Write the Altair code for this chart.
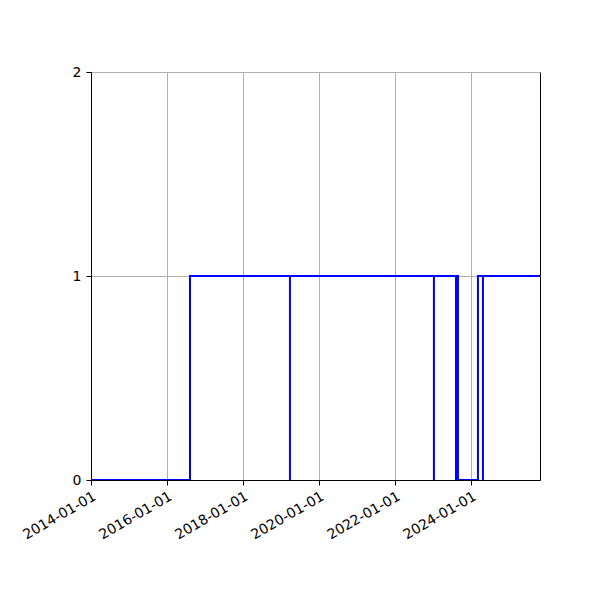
"""Step chart of a 0/1 state over time, drawn with Altair."""

import pandas as pd
import altair as alt

# change points of the state (step-after)
dates = [
    "2014-01-01", "2016-08-09", "2019-03-27", "2019-03-27",
    "2023-01-08", "2023-01-08", "2023-08-08", "2023-08-08",
    "2023-08-27", "2024-03-06", "2024-04-23", "2024-04-23",
    "2025-10-23",
]
values = [0, 1, 0, 1, 0, 1, 0, 1, 0, 1, 0, 1, 1]

tick_years = [2014, 2016, 2018, 2020, 2022, 2024]

df = pd.DataFrame({
    "date": [d + "T00:00:00" for d in dates],
    "value": values,
    "i": list(range(len(dates))),
})

font = "DejaVu Sans"

chart = alt.Chart(df).mark_line(
    interpolate="step-after", color="#0000ff", strokeWidth=2, clip=True
).encode(
    x=alt.X(
        "date:T",
        title=None,
        scale=alt.Scale(domain=[alt.DateTime(year=2014, month=1, date=1),
                                alt.DateTime(year=2025, month=10, date=23)], nice=False),
        axis=alt.Axis(
            values=[alt.DateTime(year=y, month=1, date=1) for y in tick_years],
            format="%Y-%m-%d",
            labelAngle=330,
            labelAlign="right",
            labelBaseline="top",
            labelPadding=4,
            labelOverlap=False,
            labelFlush=False,
        ),
    ),
    y=alt.Y(
        "value:Q",
        title=None,
        scale=alt.Scale(domain=[0, 2], nice=False),
        axis=alt.Axis(tickCount=2, format="d", labelPadding=5,
                      labelOverlap=False, labelFlush=False),
    ),
    order=alt.Order("i:Q"),
).properties(
    width=449,
    height=408,
    autosize=alt.AutoSizeParams(type="none"),
    padding={"left": 83, "top": 64, "right": 20, "bottom": 110},
).configure_axis(
    labelFont=font,
    labelFontSize=14,
    labelColor="black",
    domainColor="black",
    domainWidth=1,
    tickColor="black",
    tickSize=5,
    tickWidth=1,
    gridColor="#b0b0b0",
    gridWidth=1,
).configure_view(
    stroke="black",
    strokeWidth=1,
)

chart.save("out.html", embed_options={"renderer": "svg", "actions": False})
